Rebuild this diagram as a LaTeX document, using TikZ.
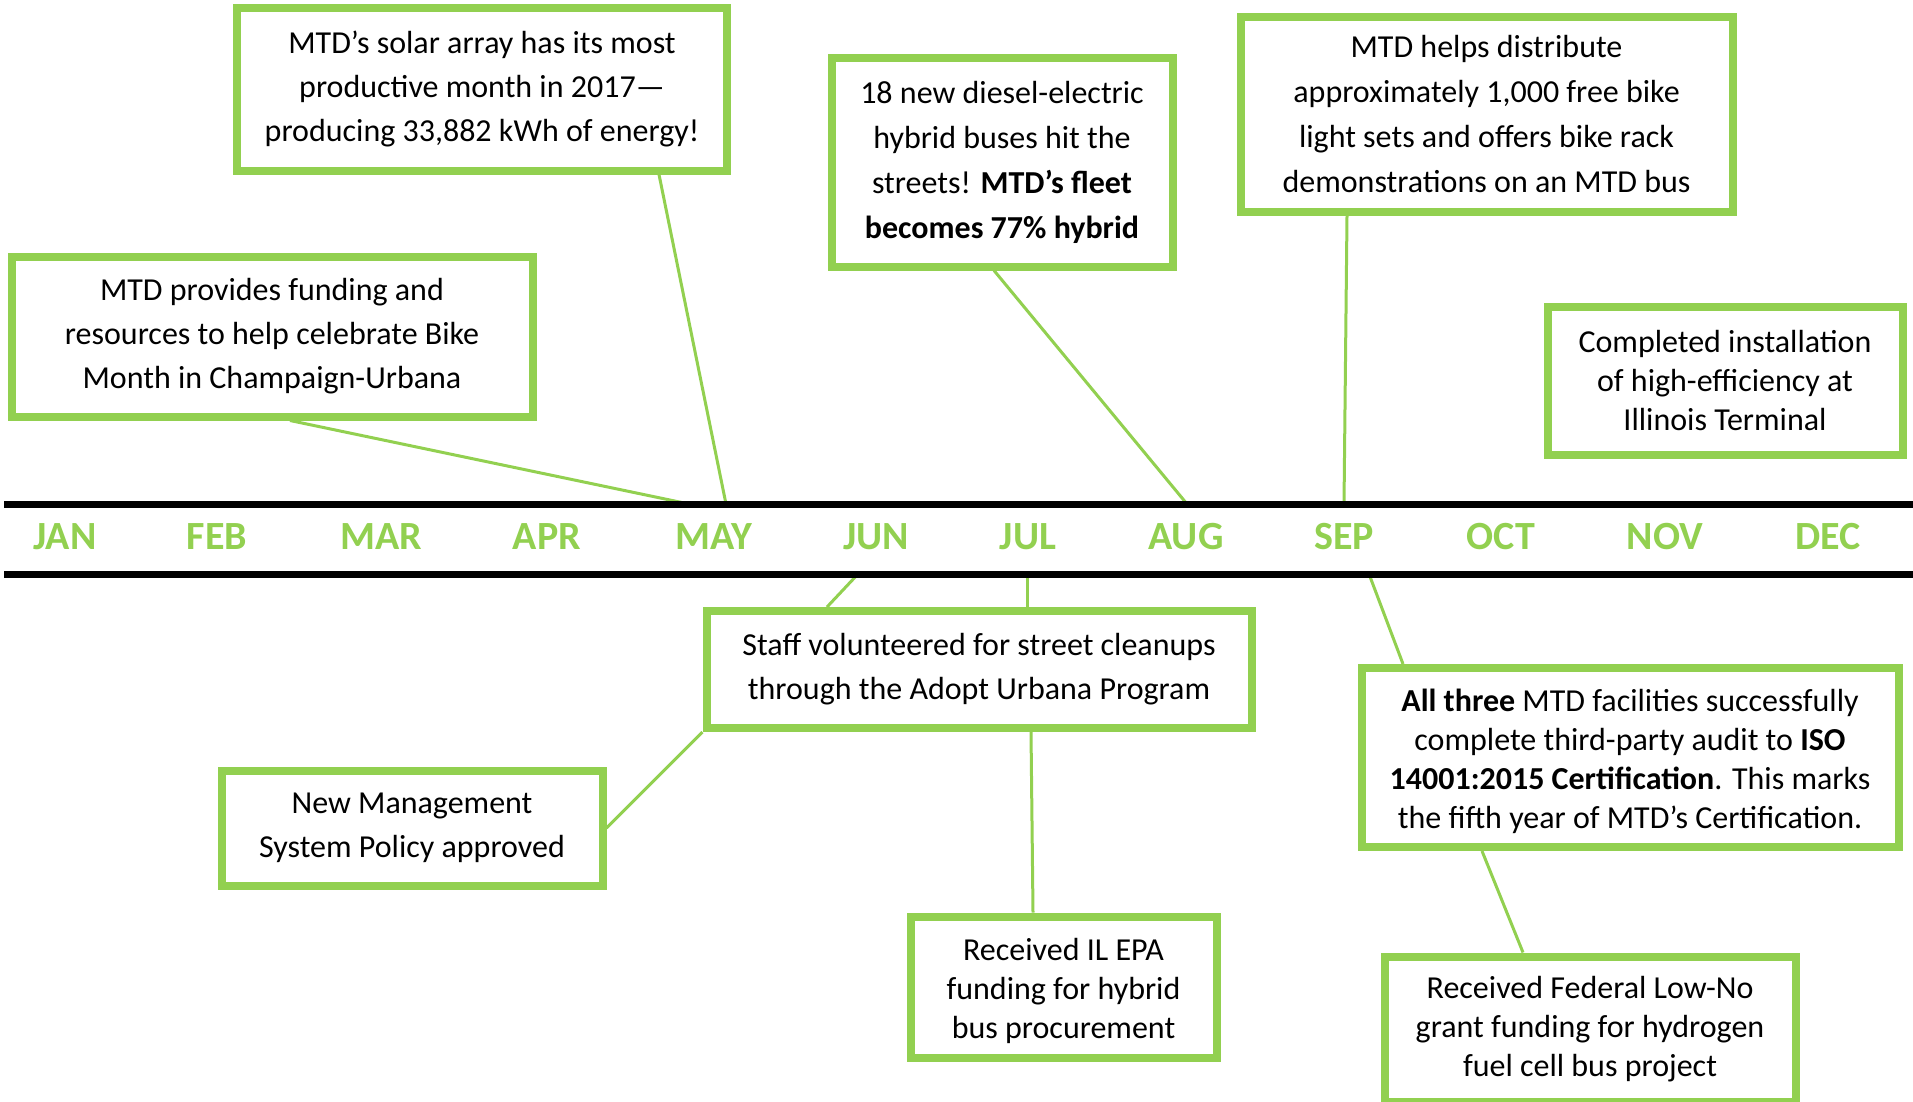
\documentclass[tikz,border=0pt]{standalone}
\usepackage{fontspec}
\setmainfont{Carlito}
\usetikzlibrary{calc}
\definecolor{mtdgreen}{RGB}{146,208,80}
\tikzset{
  evbox/.style={draw=mtdgreen, line width=8pt, fill=white, align=center, inner sep=0pt,
    font=\fontsize{32}{44}\selectfont},
  evboxwide/.style={evbox, font=\fontsize{32}{45}\selectfont},
  evboxtight/.style={evbox, font=\fontsize{32}{39}\selectfont},
  evtext/.style={align=center, inner sep=0pt, font=\fontsize{32}{39}\selectfont},
  conn/.style={draw=mtdgreen, line width=3pt},
  month/.style={text=mtdgreen, font=\fontsize{40}{40}\selectfont\bfseries, inner sep=0pt},
  tline/.style={draw=black, line width=7pt}
}
\begin{document}
\begin{tikzpicture}[x=1pt,y=-1pt]
\useasboundingbox (0,0) rectangle (1913,1101);
% boxes above
\node[evbox, minimum width=490pt, minimum height=163pt] (solar) at (482,89)
  {MTD’s solar array has its most\\productive month in 2017—\\producing 33,882 kWh of energy!};
\node[evbox, minimum width=521pt, minimum height=160pt] (bike) at (272,336.5)
  {MTD provides funding and\\resources to help celebrate Bike\\Month in Champaign-Urbana};
\node[evboxwide, minimum width=341pt, minimum height=209pt] (hybrid) at (1002,162)
  {18 new diesel-electric\\hybrid buses hit the\\streets! \textbf{MTD’s fleet}\\\textbf{becomes 77\% hybrid}};
\node[evboxwide, minimum width=492pt, minimum height=195pt] (lights) at (1486.5,114)
  {MTD helps distribute\\approximately 1,000 free bike\\light sets and offers bike rack\\demonstrations on an MTD bus};
\node[evboxtight, minimum width=355pt, minimum height=148pt] (terminal) at (1725,380.5)
  {Completed installation\\of high-efficiency at\\Illinois Terminal};
% boxes below
\node[evbox, minimum width=545pt, minimum height=117pt] (staff) at (979,669.5)
  {Staff volunteered for street cleanups\\through the Adopt Urbana Program};
\node[evbox, minimum width=381pt, minimum height=115pt] (mgmt) at (412,828)
  {New Management\\System Policy approved};
\node[evboxtight, minimum width=306pt, minimum height=141pt] (ilepa) at (1063.5,987) {};
\node[evtext] (ilepaT) at ($(ilepa.center)+(0,4)$)
  {Received IL EPA\\funding for hybrid\\bus procurement};
\node[evboxtight, minimum width=537pt, minimum height=179pt] (iso) at (1630,757.5) {};
\node[evtext] (isoT) at ($(iso.center)+(0,4)$)
  {\textbf{All three} MTD facilities successfully\\complete third-party audit to \textbf{ISO}\\\textbf{14001:2015 Certification}. This marks\\the fifth year of MTD’s Certification.};
\node[evboxtight, minimum width=411pt, minimum height=145pt] (federal) at (1590,1029)
  {Received Federal Low-No\\grant funding for hydrogen\\fuel cell bus project};
% months
\foreach \m/\x in {JAN/65,FEB/217,MAR/381,APR/547,MAY/714,JUN/876,JUL/1028,AUG/1186,SEP/1344,OCT/1501,NOV/1665,DEC/1828}
  \node[month] (m\m) at (\x,537) {\m};
% timeline anchor coordinates
\coordinate (tlL) at (4,504);
\coordinate (tlR) at (1913,504);
\coordinate (blL) at (4,574);
\coordinate (blR) at (1913,574);
\coordinate (pBike) at (689,504);
\coordinate (pSolar) at (726,504);
\coordinate (pHybrid) at (1187,504);
\coordinate (pLights) at (1344,504);
\coordinate (pStaffA) at (858,574);
\coordinate (pStaffB) at (1027,574);
\coordinate (pIso) at (1369,574);
% connectors
\draw[conn] ($(bike.south)+(18,0)$) -- (pBike);
\draw[conn] ($(solar.south)+(177,0)$) -- (pSolar);
\draw[conn] ($(hybrid.south)+(-8,0)$) -- (pHybrid);
\draw[conn] ($(lights.south)+(-139.5,0)$) -- (pLights);
\draw[conn] (pStaffA) -- ($(staff.north)+(-152,0)$);
\draw[conn] (pStaffB) -- ($(staff.north)+(48,0)$);
\draw[conn] ($(staff.south)+(52,0)$) -- ($(ilepa.north)+(-30.5,0)$);
\draw[conn] (staff.south west) -- (mgmt.east);
\draw[conn] (pIso) -- ($(iso.north)+(-227,0)$);
\draw[conn] ($(iso.south)+(-148,0)$) -- ($(federal.north)+(-67,0)$);
% timeline lines
\draw[tline] (tlL) -- (tlR);
\draw[tline] (blL) -- (blR);
\end{tikzpicture}
\end{document}
